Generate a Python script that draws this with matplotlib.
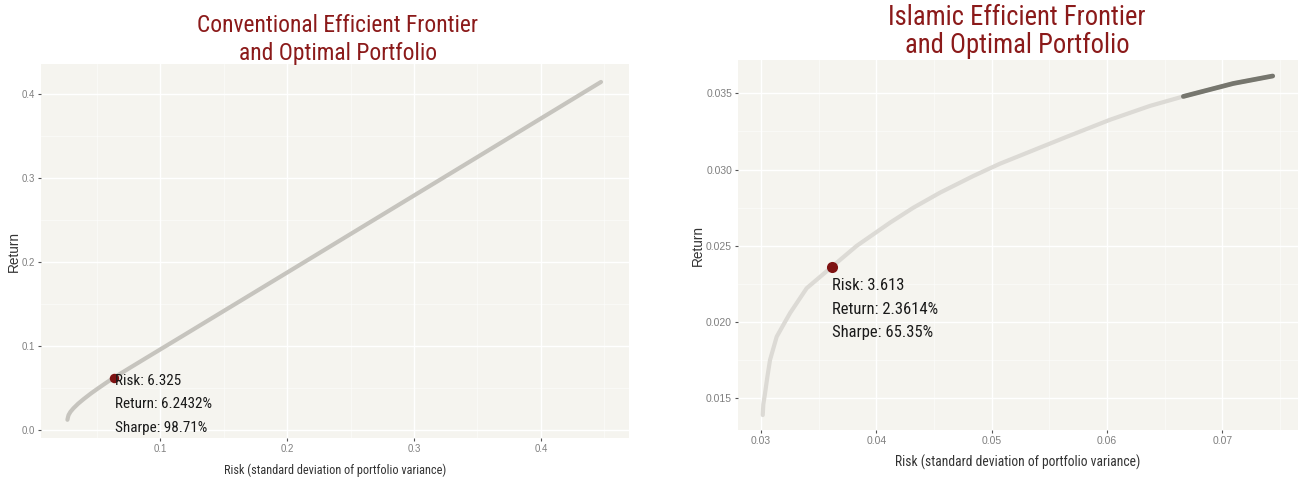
import matplotlib
matplotlib.use("Agg")
import matplotlib.pyplot as plt
from matplotlib import font_manager
from matplotlib.ticker import MultipleLocator, FormatStrFormatter

# Efficient frontier of the conventional portfolio (risk, return)
conv_risk = [0.0266, 0.0270, 0.0275, 0.0290, 0.0313, 0.0350, 0.0392, 0.0450,
             0.0498, 0.0570, 0.0633, 0.0750, 0.0917, 0.1180, 0.1443, 0.1705,
             0.2100, 0.2500, 0.3017, 0.3500, 0.4000, 0.4474]
conv_return = [0.0122, 0.0150, 0.0178, 0.0217, 0.0258, 0.0313, 0.0366, 0.0434,
               0.0486, 0.0561, 0.0624, 0.0733, 0.0886, 0.1126, 0.1367, 0.1607,
               0.1969, 0.2336, 0.2810, 0.3253, 0.3712, 0.4147]

# Efficient frontier of the Islamic portfolio (risk, return)
isl_risk = [0.03015, 0.03020, 0.03035, 0.03055, 0.03078, 0.03136, 0.03200,
            0.03252, 0.03396, 0.03613, 0.03830, 0.04119, 0.04321, 0.04553,
            0.04841, 0.05073, 0.05218, 0.05651, 0.06027, 0.06374, 0.06663,
            0.07096, 0.07438]
isl_return = [0.01390, 0.01460, 0.01533, 0.01640, 0.01751, 0.01904, 0.01990,
              0.02059, 0.02222, 0.023614, 0.02500, 0.02652, 0.02750, 0.02849,
              0.02958, 0.03039, 0.03083, 0.03215, 0.03327, 0.03418, 0.03480,
              0.03565, 0.03614]
isl_dense_start = 0.06663   # frontier points pile up beyond this risk level

# Optimal (tangency) portfolios: risk, return, Sharpe ratio (%)
conv_opt = (0.06325, 0.062432, 98.71)
isl_opt = (0.03613, 0.023614, 65.35)

titles = [("Conventional Efficient Frontier", "and Optimal Portfolio"),
          ("Islamic Efficient Frontier", "and Optimal Portfolio")]
x_title = "Risk (standard deviation of portfolio variance)"
y_title = "Return"

# Prefer a narrow sans face for horizontal text; otherwise shrink the regular one
names = {f.name for f in font_manager.fontManager.ttflist}
REGULAR = "Liberation Sans"
NARROW = None
for cand in ("Roboto Condensed", "Liberation Sans Narrow", "Arial Narrow"):
    if cand in names:
        NARROW = cand
        break
if NARROW:
    TXT, SCALE = NARROW, 1.0
else:
    TXT, SCALE = REGULAR, 0.83

W, H = 1299, 479
fig = plt.figure(figsize=(W / 100, H / 100), dpi=100)
fig.patch.set_facecolor("white")

PANEL = "#F5F4EF"
TITLE_C = "#8B1A1A"
POINT_C = "#7E1212"


def px_axes(l, t, r, b):
    return fig.add_axes([l / W, 1 - b / H, (r - l) / W, (b - t) / H])


def style(ax, xmaj, xmin, ymaj, ymin, xfmt, yfmt, fs):
    ax.set_facecolor(PANEL)
    for s in ax.spines.values():
        s.set_visible(False)
    ax.xaxis.set_major_locator(MultipleLocator(xmaj))
    ax.xaxis.set_minor_locator(MultipleLocator(xmin))
    ax.yaxis.set_major_locator(MultipleLocator(ymaj))
    ax.yaxis.set_minor_locator(MultipleLocator(ymin))
    ax.xaxis.set_major_formatter(FormatStrFormatter(xfmt))
    ax.yaxis.set_major_formatter(FormatStrFormatter(yfmt))
    ax.grid(which="major", color="white", lw=1.0)
    ax.grid(which="minor", color="white", lw=0.5, alpha=0.7)
    ax.set_axisbelow(True)
    ax.tick_params(which="major", length=2.5, width=0.8, color="#555555",
                   labelcolor="#7F7F7F", labelsize=fs["tick"], pad=2)
    ax.tick_params(which="minor", length=0)
    for lab in ax.get_xticklabels() + ax.get_yticklabels():
        lab.set_family(REGULAR)
    ax.set_xlabel(x_title, family=TXT, fontsize=fs["xlab"] * SCALE, color="#333333",
                  labelpad=fs["xpad"])
    ax.set_ylabel(y_title, family=REGULAR, fontsize=9.8, color="#333333",
                  labelpad=fs["ypad"])


def annotate_opt(ax, opt, dy, step, fsize, ms):
    r, ret, sh = opt
    ax.plot([r], [ret], "o", ms=ms, color=POINT_C, mec="none", zorder=5)
    lines = [f"Risk: {r * 100:.3f}", f"Return: {ret * 100:.4f}%", f"Sharpe: {sh:.2f}%"]
    for i, txt in enumerate(lines):
        ax.annotate(txt, (r, ret), xytext=(0.5, dy - i * step), textcoords="offset points",
                    ha="left", va="center", family=TXT, fontsize=fsize * SCALE,
                    color="#1A1A1A", zorder=6)


# Conventional panel
ax1 = px_axes(41, 64.3, 629, 437.7)
style(ax1, 0.1, 0.05, 0.1, 0.05, "%.1f", "%.1f",
      {"tick": 6.9, "xlab": 8.8, "xpad": 7, "ypad": 0.5})
ax1.set_xlim(0.00576, 0.4695)
ax1.set_ylim(-0.00917, 0.43575)
ax1.plot(conv_risk, conv_return, color="#C6C4BE", lw=3.0, solid_capstyle="round", zorder=3)
annotate_opt(ax1, conv_opt, -2.2, 17, 10.9, 6.8)

# Islamic panel
ax2 = px_axes(738.3, 60, 1297.5, 430)
style(ax2, 0.01, 0.005, 0.005, 0.0025, "%.2f", "%.3f",
      {"tick": 7.5, "xlab": 9.8, "xpad": 6, "ypad": 1.2})
ax2.set_xlim(0.02803, 0.07653)
ax2.set_ylim(0.01292, 0.03719)
ax2.plot(isl_risk, isl_return, color="#DCDAD5", lw=3.0, solid_capstyle="round", zorder=3)
dr = [x for x in isl_risk if x >= isl_dense_start]
dv = [v for x, v in zip(isl_risk, isl_return) if x >= isl_dense_start]
ax2.plot(dr, dv, color="#76766E", lw=3.4, solid_capstyle="round", zorder=4)
annotate_opt(ax2, isl_opt, -13.7, 16.8, 12.0, 8.0)

# Panel titles, two lines each
title_pos = [(338, 32, 60, 16.9), (1017, 25, 53, 19.2)]
for (l1, l2), (cx, b1, b2, fsz) in zip(titles, title_pos):
    fig.text(cx / W, 1 - b1 / H, l1, ha="center", va="baseline",
             family=TXT, fontsize=fsz * SCALE, color=TITLE_C)
    fig.text(cx / W, 1 - b2 / H, l2, ha="center", va="baseline",
             family=TXT, fontsize=fsz * SCALE, color=TITLE_C)

fig.savefig("out.png", dpi=100, facecolor="white")
